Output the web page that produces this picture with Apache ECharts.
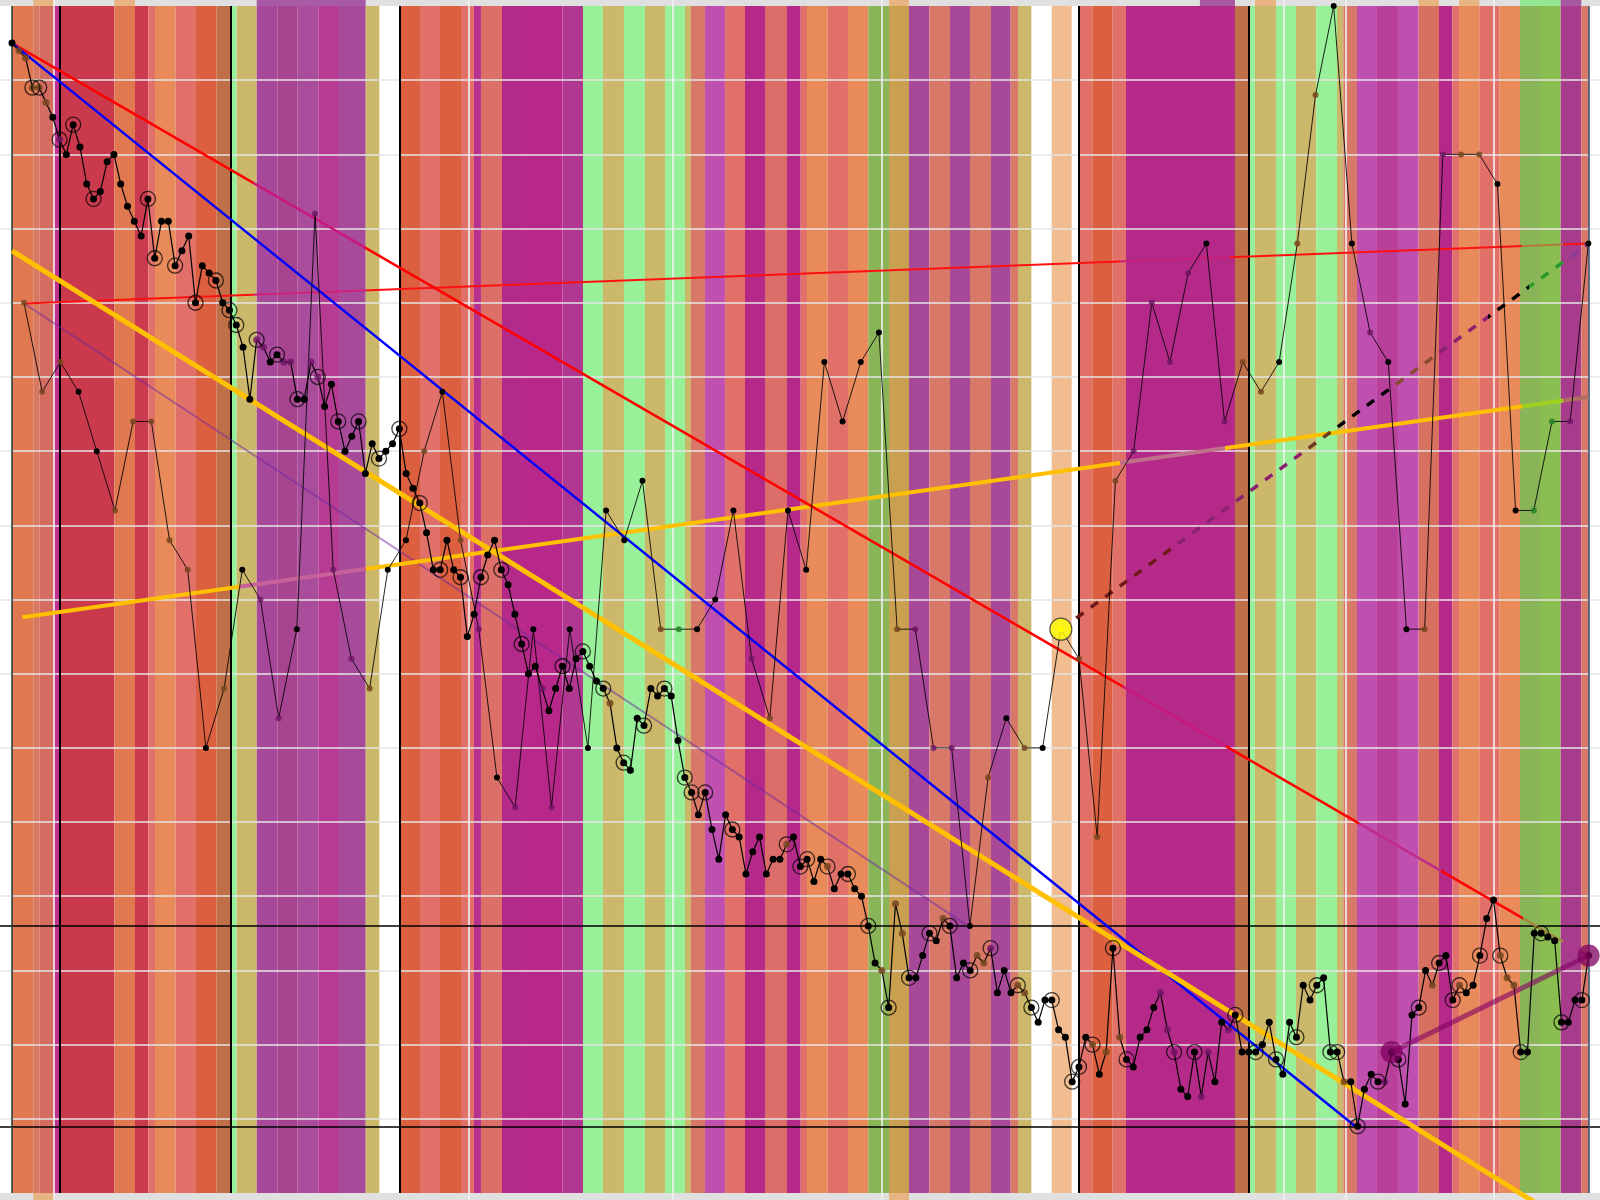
<!DOCTYPE html>
<html><head><meta charset="utf-8">
<script src="https://cdn.jsdelivr.net/npm/echarts@6/dist/echarts.min.js"></script>
<style>html,body{margin:0;padding:0;background:#e0e0e0}#c{width:1600px;height:1200px}</style>
</head><body><div id="c"></div>
<script>
// ---------- DATA ----------
// dense series (one value per step, index 0..232)
const denseY = [
 15.5,15.4,15.3,14.9,14.9,14.7,14.5,14.2,14.0,14.4,
 14.1,13.6,13.4,13.5,13.9,14.0,13.6,13.3,13.1,12.9,
 13.4,12.6,13.1,13.1,12.5,12.7,12.9,12.0,12.5,12.4,
 12.3,12.0,11.9,11.7,11.4,10.7,11.5,11.4,11.2,11.3,
 11.2,11.2,10.7,10.7,11.2,11.0,10.6,10.9,10.4,10.0,
 10.2,10.4,9.7,10.1,9.9,10.0,10.1,10.3,9.7,9.5,
 9.3,8.9,8.4,8.4,8.8,8.4,8.3,7.5,7.8,8.3,
 8.6,8.8,8.4,8.2,7.8,7.4,7.0,7.1,6.8,6.5,
 6.8,7.1,6.8,7.2,7.3,7.1,6.9,6.8,6.6,6.0,
 5.8,5.7,6.4,6.3,6.8,6.7,6.8,6.7,6.1,5.6,
 5.4,5.1,5.4,4.9,4.5,5.1,4.9,4.8,4.3,4.6,
 4.8,4.3,4.5,4.5,4.7,4.8,4.4,4.5,4.2,4.5,
 4.4,4.1,4.3,4.3,4.1,4.0,3.6,3.1,3.0,2.5,
 3.9,3.5,2.9,2.9,3.2,3.5,3.4,3.7,3.6,2.9,
 3.1,3.0,3.2,3.1,3.3,2.7,3.0,2.7,2.8,2.7,
 2.5,2.3,2.6,2.6,2.2,2.1,1.5,1.7,2.1,2.0,
 1.6,1.9,3.3,2.1,1.8,1.7,2.1,2.2,2.5,2.7,
 2.2,1.9,1.4,1.3,1.9,1.3,1.9,1.5,2.3,2.2,
 2.4,1.9,1.9,1.9,2.0,2.3,1.8,1.6,2.3,2.1,
 2.8,2.6,2.8,2.9,1.9,1.9,1.5,1.5,0.9,1.4,
 1.6,1.5,1.5,1.9,1.8,1.2,2.4,2.5,3.0,2.8,
 3.1,3.2,2.6,2.8,2.7,2.8,3.2,3.7,3.95,3.2,
 2.9,2.8,1.9,1.9,3.5,3.5,3.45,3.4,2.3,2.3,
 2.6,2.6,3.2
];
const ringIdx = [3,4,7,9,12,20,21,24,27,30,32,33,36,39,42,45,48,51,54,57,60,63,66,69,72,75,81,84,87,90,93,96,99,100,102,106,114,116,117,120,123,126,129,132,135,138,141,144,148,150,153,156,157,159,162,164,171,174,180,183,186,189,192,194,195,198,201,204,207,210,212,213,216,219,222,225,228,231];
const brownIdx = [1,2,3,4,5,88,114,120,128,130,131,137,142,143,148,149,159,161,163,196,209,213,219,220,221];
const purpleIdx = [7,36,37,40,41,44,45,78,144,169,170,171,175,176,179,202];

// sparse series (87 samples)
const sparseY = [
 12.0,10.8,11.2,10.8,10.0,9.2,10.4,10.4,8.8,8.4,
 6.0,6.8,8.4,8.0,6.4,7.6,13.2,8.4,7.2,6.8,
 8.4,8.8,10.0,10.8,8.8,7.6,5.6,5.2,7.6,5.2,
 7.6,6.0,9.2,8.8,9.6,7.6,7.6,7.6,8.0,9.2,
 7.2,6.4,9.2,8.4,11.2,10.4,11.2,11.6,7.6,7.6,
 6.0,6.0,3.6,5.6,6.4,6.0,6.0,7.6,7.2,4.8,
 9.6,10.0,12.0,11.2,12.4,12.8,10.4,11.2,10.8,11.2,
 12.8,14.8,16.0,12.8,11.6,11.2,7.6,7.6,14.0,14.0,
 14.0,13.6,9.2,9.2,10.4,10.4,12.8
];
const sparseTone = ("bbbkkbbbbb"+"kbkppkpppb"+"kkbkbpkpkp"+"kkkkkbgkkk"+"pbkkkkkkbp"+"ppkbkbkybb"+"bppppkpbbk"+"bbkkpkkbpb"+"bkkggpk").split('');
const yellowK = 57;

// background bands: [from, to, colour] in step units
const bands = [
 [0,3.13,'#e07850'],[3.13,4.02,'#d8785e'],[4.02,6.18,'#d46c62'],[6.18,7.06,'#c03090'],
 [7.06,15.05,'#ca3a4c'],[15.05,18.1,'#e07850'],[18.1,20.06,'#cc3a50'],[20.06,21.04,'#e07068'],
 [21.04,24.09,'#e88a5a'],[24.09,27.07,'#e07068'],[27.07,30.12,'#dc6040'],[30.12,32.12,'#c07048'],
 [32.12,33.06,'#98f098'],[33.06,36.01,'#ccb86a'],[36.01,39.1,'#a8489a'],[39.1,42.04,'#a64490'],
 [42.04,45.07,'#aa4c9c'],[45.07,48.12,'#b53c92'],[48.12,52.05,'#a84a9a'],[52.05,54.05,'#ccb86a'],
 [56.99,60.04,'#dc6040'],[60.04,62.98,'#e07068'],[62.98,66.07,'#dc6040'],[66.07,67.98,'#e07068'],
 [67.98,69.01,'#b83090'],[69.01,72.1,'#dc7068'],[72.1,75.05,'#b42a88'],[75.05,81.0,'#b8288a'],
 [81.0,84.02,'#b03890'],[84.02,86.96,'#98f098'],[86.96,90.05,'#ccb86a'],[90.05,93.14,'#98f098'],
 [93.14,96.09,'#ccb86a'],[96.09,99.03,'#98f098'],[99.03,99.91,'#ccb86a'],[99.91,101.97,'#d87868'],
 [101.97,104.91,'#c050b0'],[104.91,107.86,'#e07068'],[107.86,110.8,'#b52a89'],[110.8,114.04,'#dc6d68'],
 [114.04,116.05,'#b52a89'],[116.05,116.98,'#e07068'],[116.98,120.03,'#e88a5a'],[120.03,123.01,'#e07068'],
 [123.01,126.0,'#e88a5a'],[126.0,129.05,'#8ab458'],[129.05,131.99,'#c8a050'],[131.99,134.98,'#a84898'],
 [134.98,138.02,'#d87868'],[138.02,140.97,'#a84898'],[140.97,144.06,'#d87868'],[144.06,146.95,'#a84898'],
 [146.95,148.03,'#d87868'],[148.03,149.99,'#ccb86a'],[152.99,155.93,'#f0bc90'],[156.9,158.96,'#e07068'],
 [158.96,161.96,'#dc6040'],[161.96,163.92,'#e07068'],[163.92,179.96,'#b52a89'],[179.96,181.95,'#c07048'],
 [181.95,182.9,'#98f098'],[182.9,185.99,'#ccb86a'],[185.99,188.94,'#98f098'],[188.94,191.92,'#ccb86a'],
 [191.92,194.97,'#98f098'],[194.97,195.9,'#ccb86a'],[195.9,197.91,'#d87868'],[197.91,200.85,'#c050b0'],
 [200.85,203.94,'#b8409a'],[203.94,206.99,'#c050b0'],[206.99,209.98,'#d87060'],[209.98,211.94,'#b52a89'],
 [211.94,212.93,'#e07068'],[212.93,215.91,'#e88a5a'],[215.91,218.85,'#e07068'],[218.85,221.9,'#e88a5a'],
 [221.9,224.84,'#8ab458'],[224.84,227.88,'#8abe50'],[227.88,230.92,'#a83c8c'],[230.92,232.0,'#d87868']
];
// small coloured marks in the top and bottom margin strips
const topStrip = [[3.13,6.18,'#e8b482'],[15.05,18.1,'#e8b482'],[36.01,52.05,'#a85aa4'],[129.05,131.99,'#e8b482'],
 [174.8,179.96,'#a858a0'],[182.9,185.99,'#e8b482'],[206.99,209.98,'#e8b482'],[212.93,215.91,'#e8b482'],
 [221.9,227.88,'#94e894'],[227.88,230.92,'#a858a0']];
const bottomStrip = [[3.13,6.18,'#e8b482'],[129.05,131.99,'#e8b482']];

const blackV = [7.06,32.12,57.0,156.9,182.0];
const whiteV = [6.18,67.25,97.16,127.97,187.07,196.25,217.97];
const blackH = [3.6,0.89];
const gridTicks = [1,2,3,4,5,6,7,8,9,10,11,12,13,14,15];

// trend lines [[x1,y1],[x2,y2]] in step units
const redDesc   = [[0,15.5],[232,3.19]];
const blueDesc  = [[0,15.5],[197.8,0.89]];
const faintDiag = [[1.77,11.99],[140.67,3.6]];
const goldDesc  = [[0,12.7],[232,-0.58]];
const goldRise  = [[1.53,7.76],[232,10.73]];
const redFlat   = [[1.77,11.99],[232,12.8]];
const dashRise  = [[156.6,7.75],[232,12.8]];
const purpleSeg = [203,232];

// colour tints along lines: [fromFraction, toFraction, colour]
const redDescTint  = [[0.154,0.225,'#c8187a'],[0.704,0.769,'#c8187a'],[0.853,0.905,'#c02c8a'],[0.957,0.982,'#a08a40'],[0.982,1,'#b03a8a']];
const redFlatTint  = [[0.148,0.22,'#d0207a'],[0.70,0.77,'#c8207a'],[0.956,0.982,'#b07a40']];
const goldRiseTint = [[0.14,0.22,'#c8609a'],[0.70,0.767,'#c0708a'],[0.956,0.982,'#a0d020'],[0.982,1,'#b07060']];
const dashTint = [[0,0.2,'#701818'],[0.2,0.45,'#8a2070'],[0.45,0.5,'#6a3a20'],[0.5,0.62,'#000000'],[0.62,0.7,'#8a4a30'],[0.7,0.8,'#8a2070'],[0.8,0.88,'#000000'],[0.88,0.95,'#2a9a2a'],[0.95,1,'#8a3a9a']];

// ---------- CHART ----------
const X0 = -1.766, X1 = 233.67;          // step axis range (margins included)
const Y0 = -0.0944, Y1 = 16.081;         // value range incl. margin strips
const tone = {k:'#000000', b:'rgba(120,70,30,0.85)', p:'rgba(110,20,100,0.8)', g:'rgba(40,130,40,0.85)', y:'#ffff00'};
const chart = echarts.init(document.getElementById('c'));

function tinted(base, tints) {
  const stops = [{offset:0, color:base}];
  tints.forEach(t => {
    stops.push({offset:t[0], color:base}, {offset:t[0], color:t[2]}, {offset:t[1], color:t[2]}, {offset:t[1], color:base});
  });
  stops.push({offset:1, color:base});
  return new echarts.graphic.LinearGradient(0,0,1,0, stops);
}

const area = (a,b,y0,y1,c) => [{xAxis:a, yAxis:y0, itemStyle:{color:c, opacity:1}}, {xAxis:b, yAxis:y1}];
const areas = [].concat(
  [area(X0,X1,16,Y1,'#e0e0e0'), area(X0,X1,Y0,0,'#e0e0e0')],
  bands.map(b => area(b[0],b[1],0,16,b[2])),
  topStrip.map(b => area(b[0],b[1],16,Y1,b[2])),
  bottomStrip.map(b => area(b[0],b[1],Y0,0,b[2]))
);
const vline = (x,style) => [{coord:[x,0], lineStyle:style},{coord:[x,16]}];
const refLines = [].concat(
  gridTicks.map(y => ({yAxis:y, lineStyle:{color:'#e6e6e6', width:1.5, type:'solid'}})),
  whiteV.map(x => ({xAxis:x, lineStyle:{color:'#f2f2f2', width:1.6, type:'solid'}})),
  blackV.map(x => vline(x,{color:'#000', width:2, type:'solid'})),
  blackH.map(y => ({yAxis:y, lineStyle:{color:'#000', width:1.6, type:'solid'}})),
  [vline(0,{color:'#1e3a34', width:1.5, type:'solid'}), vline(232,{color:'#2a4e6e', width:1.5, type:'solid'})]
);

function seg(data, color, width, z, type) {
  return {type:'line', data:data, symbol:'none', z:z, clip:true, silent:true,
    lineStyle:{color:color, width:width, type:type||'solid'}};
}

const denseData = denseY.map((v,i)=>({value:[i,v], itemStyle:{color: brownIdx.includes(i)?tone.b:(purpleIdx.includes(i)?tone.p:'#000')}}));
const sparseData = sparseY.map((v,k)=>({value:[k,v], itemStyle:{color: tone[sparseTone[k]]}}));

chart.setOption({
  animation:false,
  backgroundColor:'#ffffff',
  grid:{left:0, right:0, top:0, bottom:0, show:false},
  xAxis:[
    {type:'value', min:X0, max:X1, show:false},
    {type:'value', min:-1.319, max:86.64, show:false}
  ],
  yAxis:{type:'value', min:Y0, max:Y1, show:false},
  series:[
    {type:'line', data:[], xAxisIndex:0, silent:true,
      markArea:{silent:true, z:1, data:areas},
      markLine:{silent:true, z:1.8, symbol:['none','none'], label:{show:false}, data:refLines}},
    seg(faintDiag,'rgba(110,40,160,0.5)',2,3),
    seg(redFlat,tinted('#ff1010',redFlatTint),2,3),
    seg(goldRise,tinted('#ffc000',goldRiseTint),4,3),
    seg(redDesc,tinted('#ff0000',redDescTint),2.5,3),
    seg(blueDesc,'#0000ff',2.5,3),
    seg(goldDesc,'#ffc000',5,3),
    seg(dashRise,tinted('#5a1a30',dashTint),3.5,3,[9,9]),
    {type:'line', xAxisIndex:1, data:sparseData, z:4, symbol:'circle', symbolSize:6,
      lineStyle:{color:'rgba(0,0,0,0.85)', width:1}, silent:true},
    {type:'line', xAxisIndex:0, data:denseData, z:5, symbol:'circle', symbolSize:7,
      lineStyle:{color:'#000', width:1.2}, silent:true},
    {type:'scatter', xAxisIndex:0, data:ringIdx.map(i=>[i,denseY[i]]), z:6, symbol:'circle', symbolSize:15,
      itemStyle:{color:'rgba(0,0,0,0)', borderColor:'rgba(0,0,0,0.9)', borderWidth:1.3}, silent:true},
    {type:'line', xAxisIndex:0, data:purpleSeg.map(i=>[i,denseY[i]]), z:7, symbol:'circle', symbolSize:22,
      lineStyle:{color:'rgba(130,0,100,0.6)', width:5}, itemStyle:{color:'rgba(128,0,96,0.75)'}, silent:true},
    {type:'scatter', xAxisIndex:1, data:[[yellowK, sparseY[yellowK]]], z:8, symbolSize:22,
      itemStyle:{color:'#ffff00', borderColor:'#333', borderWidth:1.2}, silent:true}
  ]
});
</script></body></html>
